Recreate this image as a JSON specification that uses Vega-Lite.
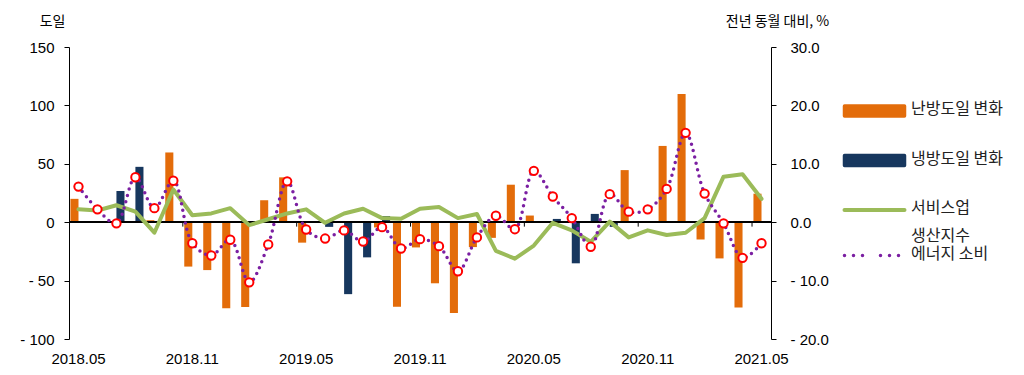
{
  "$schema": "https://vega.github.io/schema/vega-lite/v6.json",
  "width": 702,
  "height": 292,
  "autosize": "none",
  "padding": {"left": 69, "top": 47, "right": 253, "bottom": 36},
  "background": "white",
  "config": {
    "view": {"stroke": null},
    "font": "Noto Sans CJK KR",
    "axis": {"labelFont": "Liberation Sans", "labelColor": "#000", "titleColor": "#000", "grid": false}
  },
  "datasets": {
    "d": [
      {"month": "2018.05", "난방도일 변화": 20, "냉방도일 변화": 0, "서비스업": 2.2, "생산지수 에너지 소비": 6.1},
      {"month": "2018.06", "난방도일 변화": 0, "냉방도일 변화": 1, "서비스업": 2.0, "생산지수 에너지 소비": 2.2},
      {"month": "2018.07", "난방도일 변화": 0, "냉방도일 변화": 26.7, "서비스업": 2.9, "생산지수 에너지 소비": -0.2},
      {"month": "2018.08", "난방도일 변화": 0, "냉방도일 변화": 47.4, "서비스업": 1.8, "생산지수 에너지 소비": 7.7},
      {"month": "2018.09", "난방도일 변화": 1.7, "냉방도일 변화": 0, "서비스업": -1.8, "생산지수 에너지 소비": 2.4},
      {"month": "2018.10", "난방도일 변화": 59.7, "냉방도일 변화": 0, "서비스업": 5.6, "생산지수 에너지 소비": 7.1},
      {"month": "2018.11", "난방도일 변화": -38, "냉방도일 변화": 0, "서비스업": 1.2, "생산지수 에너지 소비": -3.6},
      {"month": "2018.12", "난방도일 변화": -41, "냉방도일 변화": 0, "서비스업": 1.5, "생산지수 에너지 소비": -5.7},
      {"month": "2019.01", "난방도일 변화": -73.6, "냉방도일 변화": 0, "서비스업": 2.4, "생산지수 에너지 소비": -3.0},
      {"month": "2019.02", "난방도일 변화": -72.7, "냉방도일 변화": 0, "서비스업": -0.5, "생산지수 에너지 소비": -10.3},
      {"month": "2019.03", "난방도일 변화": 18.8, "냉방도일 변화": 0, "서비스업": 0.5, "생산지수 에너지 소비": -3.8},
      {"month": "2019.04", "난방도일 변화": 38.4, "냉방도일 변화": 0, "서비스업": 1.5, "생산지수 에너지 소비": 7.0},
      {"month": "2019.05", "난방도일 변화": -17.5, "냉방도일 변화": 0, "서비스업": 2.2, "생산지수 에너지 소비": -1.25},
      {"month": "2019.06", "난방도일 변화": 0, "냉방도일 변화": -4, "서비스업": -0.1, "생산지수 에너지 소비": -2.8},
      {"month": "2019.07", "난방도일 변화": 0, "냉방도일 변화": -61.6, "서비스업": 1.5, "생산지수 에너지 소비": -1.4},
      {"month": "2019.08", "난방도일 변화": 0, "냉방도일 변화": -30.1, "서비스업": 2.3, "생산지수 에너지 소비": -3.3},
      {"month": "2019.09", "난방도일 변화": -4.5, "냉방도일 변화": 5.3, "서비스업": 0.7, "생산지수 에너지 소비": -0.85},
      {"month": "2019.10", "난방도일 변화": -72.4, "냉방도일 변화": 0, "서비스업": 0.6, "생산지수 에너지 소비": -4.5},
      {"month": "2019.11", "난방도일 변화": -21.6, "냉방도일 변화": 0, "서비스업": 2.3, "생산지수 에너지 소비": -2.9},
      {"month": "2019.12", "난방도일 변화": -52.3, "냉방도일 변화": 0, "서비스업": 2.6, "생산지수 에너지 소비": -4.1},
      {"month": "2020.01", "난방도일 변화": -77.8, "냉방도일 변화": 0, "서비스업": 0.7, "생산지수 에너지 소비": -8.4},
      {"month": "2020.02", "난방도일 변화": -21.3, "냉방도일 변화": 0, "서비스업": 1.4, "생산지수 에너지 소비": -2.6},
      {"month": "2020.03", "난방도일 변화": -13.4, "냉방도일 변화": 0, "서비스업": -4.9, "생산지수 에너지 소비": 1.1},
      {"month": "2020.04", "난방도일 변화": 32.1, "냉방도일 변화": 0, "서비스업": -6.25, "생산지수 에너지 소비": -1.2},
      {"month": "2020.05", "난방도일 변화": 5.7, "냉방도일 변화": 0, "서비스업": -4.0, "생산지수 에너지 소비": 8.8},
      {"month": "2020.06", "난방도일 변화": 0, "냉방도일 변화": 2.8, "서비스업": -0.1, "생산지수 에너지 소비": 4.4},
      {"month": "2020.07", "난방도일 변화": 0, "냉방도일 변화": -35.2, "서비스업": -1.4, "생산지수 에너지 소비": 0.7},
      {"month": "2020.08", "난방도일 변화": 0, "냉방도일 변화": 7.1, "서비스업": -3.35, "생산지수 에너지 소비": -4.2},
      {"month": "2020.09", "난방도일 변화": 0, "냉방도일 변화": -4, "서비스업": 0.1, "생산지수 에너지 소비": 4.8},
      {"month": "2020.10", "난방도일 변화": 44.6, "냉방도일 변화": 0, "서비스업": -2.6, "생산지수 에너지 소비": 1.8},
      {"month": "2020.11", "난방도일 변화": 0, "냉방도일 변화": 0, "서비스업": -1.4, "생산지수 에너지 소비": 2.2},
      {"month": "2020.12", "난방도일 변화": 65.3, "냉방도일 변화": 0, "서비스업": -2.2, "생산지수 에너지 소비": 5.7},
      {"month": "2021.01", "난방도일 변화": 109.7, "냉방도일 변화": 0, "서비스업": -1.8, "생산지수 에너지 소비": 15.3},
      {"month": "2021.02", "난방도일 변화": -14.8, "냉방도일 변화": 0, "서비스업": 0.7, "생산지수 에너지 소비": 4.9},
      {"month": "2021.03", "난방도일 변화": -31, "냉방도일 변화": 0, "서비스업": 7.8, "생산지수 에너지 소비": -0.2},
      {"month": "2021.04", "난방도일 변화": -73, "냉방도일 변화": 0, "서비스업": 8.2, "생산지수 에너지 소비": -6.1},
      {"month": "2021.05", "난방도일 변화": 24.4, "냉방도일 변화": 0, "서비스업": 4.0, "생산지수 에너지 소비": -3.6}
    ]
  },
  "data": {"name": "d"},
  "layer": [
    {
      "transform": [{"fold": ["난방도일 변화", "냉방도일 변화"], "as": ["series", "v"]}],
      "mark": {"type": "bar"},
      "encoding": {
        "x": {
          "field": "month", "type": "ordinal", "sort": null,
          "scale": {"type": "band", "paddingInner": 0.15, "paddingOuter": 0.075},
          "axis": {
            "orient": "bottom", "values": ["2018.05", "2018.11", "2019.05", "2019.11", "2020.05", "2020.11", "2021.05"],
            "ticks": false, "domain": false, "labelAngle": 0, "labelFontSize": 15, "labelPadding": 12, "title": null
          }
        },
        "xOffset": {"field": "series", "sort": ["난방도일 변화", "냉방도일 변화"], "scale": {"paddingInner": 0, "paddingOuter": 0}},
        "y": {
          "field": "v", "type": "quantitative",
          "scale": {"domain": [-100, 150], "nice": false, "zero": false},
          "axis": {
            "orient": "left", "values": [-100, -50, 0, 50, 100, 150],
            "labelExpr": "datum.value < 0 ? '- ' + (-datum.value) : '' + datum.value",
            "tickSize": 5, "tickColor": "#000", "domainColor": "#000", "labelFontSize": 15, "labelPadding": 10,
            "title": "도일", "titleAngle": 0, "titleX": -17, "titleY": -26, "titleAlign": "center", "titleBaseline": "middle",
            "titleFontWeight": "normal", "titleFontSize": 14
          }
        },
        "color": {
          "field": "series", "type": "nominal",
          "scale": {
            "domain": ["난방도일 변화", "냉방도일 변화", "서비스업", "생산지수 에너지 소비"],
            "range": ["#E36C0A", "#17375E", "#9BBB59", "#7B1FA2"]
          },
          "legend": {
            "orient": "none", "legendX": 797.5, "legendY": 56, "title": null, "direction": "vertical",
            "padding": 0, "labelFontSize": 16, "labelColor": "#222", "labelOffset": 28.5, "rowPadding": 9.5,
            "symbolSize": 100,
            "labelExpr": "datum.label === '생산지수 에너지 소비' ? ['생산지수', '에너지 소비'] : ['', datum.label]",
            "encode": {
              "labels": {
                "update": {
                  "dy": {"value": -20}
                }
              },
              "symbols": {
                "update": {
                  "shape": {"signal": "(datum.value === '난방도일 변화' || datum.value === '냉방도일 변화') ? 'M-6,-1H6V1H-6Z' : 'M-6,0H6'"},
                  "fill": {"signal": "datum.value === '난방도일 변화' ? '#E36C0A' : datum.value === '냉방도일 변화' ? '#17375E' : 'transparent'"},
                  "stroke": {"signal": "datum.value === '서비스업' ? '#9BBB59' : datum.value === '생산지수 에너지 소비' ? '#7B1FA2' : 'transparent'"},
                  "strokeWidth": {"signal": "datum.value === '서비스업' ? 4 : 3.5"},
                  "strokeDash": {"signal": "datum.value === '생산지수 에너지 소비' ? [0, 9] : [1, 0]"},
                  "strokeCap": {"value": "round"},
                  "opacity": {"value": 1}
                }
              }
            }
          }
        }
      }
    },
    {
      "mark": {"type": "rule", "color": "#000", "strokeWidth": 1},
      "encoding": {
        "y": {"datum": 0, "type": "quantitative", "scale": {"domain": [-100, 150], "nice": false, "zero": false}, "axis": null}
      }
    },
    {
      "transform": [{"filter": {"field": "month", "oneOf": ["2018.11", "2019.05", "2019.11", "2020.05", "2020.11", "2021.05"]}}],
      "mark": {"type": "rule", "color": "#000", "strokeWidth": 1},
      "encoding": {
        "x": {"field": "month", "type": "ordinal", "sort": null, "bandPosition": -0.088},
        "y": {"datum": 0, "type": "quantitative", "scale": {"domain": [-100, 150], "nice": false, "zero": false}, "axis": null},
        "y2": {"datum": -3.8}
      }
    },
    {
      "mark": {"type": "line", "strokeWidth": 4, "strokeCap": "round", "strokeJoin": "round"},
      "encoding": {
        "x": {"field": "month", "type": "ordinal", "sort": null},
        "y": {
          "field": "서비스업", "type": "quantitative",
          "scale": {"domain": [-20, 30], "nice": false, "zero": false},
          "axis": {
            "orient": "right", "values": [-20, -10, 0, 10, 20, 30],
            "labelExpr": "datum.value < 0 ? '- ' + format(-datum.value, '.1f') : format(datum.value, '.1f')",
            "tickSize": 5, "tickColor": "#000", "domainColor": "#000", "labelFontSize": 15, "labelPadding": 14,
            "title": "전년 동월 대비, %", "titleAngle": 0, "titleX": 6, "titleY": -26, "titleAlign": "center", "titleBaseline": "middle",
            "titleFontWeight": "normal", "titleFontSize": 14
          }
        },
        "color": {"datum": "서비스업"}
      }
    },
    {
      "mark": {"type": "line", "strokeWidth": 3.5, "strokeCap": "round", "strokeDash": [0, 6.5], "interpolate": "catmull-rom"},
      "encoding": {
        "x": {"field": "month", "type": "ordinal", "sort": null},
        "y": {"field": "생산지수 에너지 소비", "type": "quantitative", "scale": {"domain": [-20, 30], "nice": false, "zero": false}, "axis": null},
        "color": {"datum": "생산지수 에너지 소비"}
      }
    },
    {
      "transform": [{"fold": ["생산지수 에너지 소비"], "as": ["series2", "v2"]}],
      "mark": {"type": "point", "filled": true, "fill": "white", "stroke": "#FF0000", "strokeWidth": 2, "size": 70, "opacity": 1},
      "encoding": {
        "x": {"field": "month", "type": "ordinal", "sort": null},
        "y": {"field": "v2", "type": "quantitative", "scale": {"domain": [-20, 30], "nice": false, "zero": false}, "axis": null},
        "shape": {
          "field": "series2", "type": "nominal",
          "scale": {"range": ["circle"]},
          "legend": {
            "orient": "none", "legendX": 798.4, "legendY": 203.5, "title": null, "padding": 0,
            "labelExpr": "''", "labelFontSize": 1, "symbolSize": 80, "symbolFillColor": "white", "symbolStrokeColor": "#FF0000",
            "symbolStrokeWidth": 2, "symbolOpacity": 1
          }
        }
      }
    }
  ],
  "resolve": {"scale": {"y": "independent"}}
}
